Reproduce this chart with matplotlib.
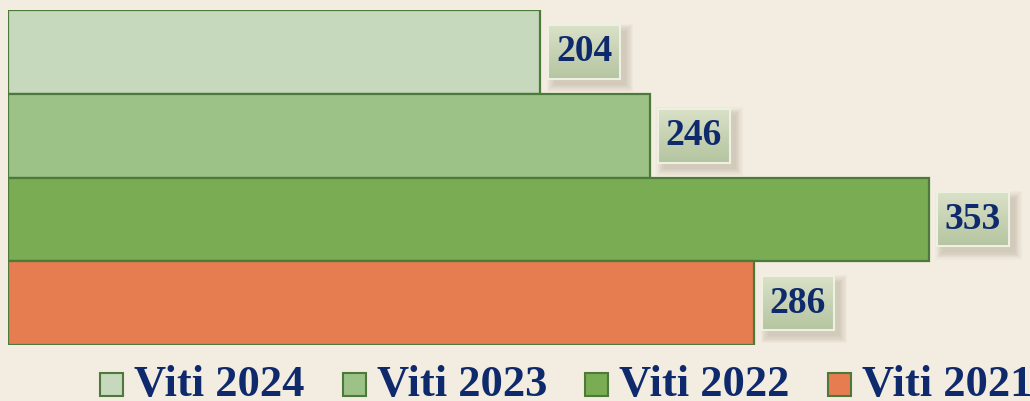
import matplotlib
matplotlib.use("Agg")
import matplotlib.pyplot as plt
from matplotlib.patches import Rectangle
from matplotlib.transforms import ScaledTranslation
import numpy as np

# data
years = ["Viti 2024", "Viti 2023", "Viti 2022", "Viti 2021"]
values = [204, 246, 353, 286]
colors = ["#c6d9bd", "#9dc288", "#79ac53", "#e67d50"]

bg = "#f3ece1"
navy = "#0e2a6c"
edge = "#4d7a3a"
W, H = 1030, 401

fig = plt.figure(figsize=(W / 100, H / 100), dpi=100, facecolor=bg)
ax = fig.add_axes([8 / W, 56 / H, 1022 / W, 335 / H])
ax.set_facecolor(bg)

pos = list(range(len(values)))
ax.barh(pos, values, height=1.0, color=colors, edgecolor=edge, linewidth=1.6)
ax.set_xlim(0, 1022 / 2.608)
ax.set_ylim(3.5, -0.5)
ax.axis("off")

# value label boxes (sizes in inches, anchored at the bar end)
bx0, bw, bh = 0.08, 0.72, 0.54
top_c = np.array([0.85, 0.88, 0.78])
bot_c = np.array([0.71, 0.77, 0.63])
for p, v in zip(pos, values):
    tr = fig.dpi_scale_trans + ScaledTranslation(v, p, ax.transData)
    # blurred shadow
    for k in range(7):
        g = 0.012 * k
        ax.add_patch(Rectangle((bx0 + 0.06 - g, -bh / 2 - 0.06 - g), bw + 2 * g, bh + 2 * g,
                               transform=tr, facecolor="#5e5535", edgecolor="none",
                               alpha=0.03, clip_on=False))
    # vertical gradient fill
    n = 27
    for j in range(n):
        f = j / (n - 1)
        ax.add_patch(Rectangle((bx0, bh / 2 - (j + 1) * bh / n), bw, bh / n + 0.002,
                               transform=tr, facecolor=top_c * (1 - f) + bot_c * f,
                               edgecolor="none", clip_on=False))
    ax.add_patch(Rectangle((bx0, -bh / 2), bw, bh, transform=tr, facecolor="none",
                           edgecolor="#eef0e2", linewidth=1.5, clip_on=False))
    ax.text(bx0 + bw / 2, 0, str(v), transform=tr, ha="center", va="center",
            fontsize=27, fontweight="bold", family="Liberation Serif", color=navy)

# legend along the bottom, laid out by hand (pixel positions)
x0, step = 100, 242.7
for i, (lab, c) in enumerate(zip(years, colors)):
    x = x0 + step * i
    fig.patches.append(Rectangle((x / W, 5 / H), 23 / W, 23 / H, transform=fig.transFigure,
                                 facecolor=c, edgecolor=edge, linewidth=1.5))
    fig.text((x + 34) / W, 5 / H, lab, ha="left", va="baseline", color=navy,
             family="Liberation Serif", fontweight="bold", fontsize=32)

fig.savefig("out.png", dpi=100, facecolor=bg)
